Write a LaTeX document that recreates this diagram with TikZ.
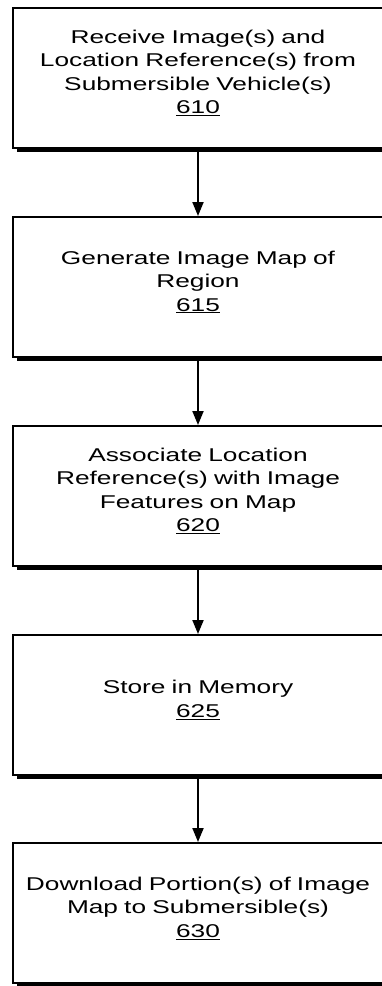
\documentclass[tikz,border=0pt]{standalone}
\usepackage{fontspec}
\setmainfont[FakeStretch=1.42]{Liberation Sans}
\usetikzlibrary{arrows.meta,shadows}
\begin{document}
\begin{tikzpicture}[x=1pt,y=1pt,
  stepbox/.style={draw=black, line width=2pt, fill=white, minimum width=370pt, minimum height=140pt,
    inner sep=0pt, align=center, text width=366pt,
    font=\fontsize{18.5}{23.5}\selectfont,
    drop shadow={shadow xshift=3.5pt, shadow yshift=-3.5pt, fill=black, opacity=1}},
  steptext/.style={inner sep=0pt, align=center, text width=366pt, font=\fontsize{18.5}{23.5}\selectfont},
  flow/.style={line width=2pt, -{Triangle[length=14pt,width=11pt]}}]
\useasboundingbox (0,0) rectangle (382,-986);
\node[stepbox] (b1) at (198,-78) {};
\node[stepbox] (b2) at (198,-287) {};
\node[stepbox] (b3) at (198,-496) {};
\node[stepbox] (b4) at (198,-705) {};
\node[stepbox] (b5) at (198,-913) {};
\node[steptext] (t1) at ([yshift=5pt]b1.center) {Receive Image(s) and\\Location Reference(s) from\\Submersible Vehicle(s)\\\underline{610}};
\node[steptext] (t2) at ([yshift=5pt]b2.center) {Generate Image Map of\\Region\\\underline{615}};
\node[steptext] (t3) at ([yshift=5pt]b3.center) {Associate Location\\Reference(s) with Image\\Features on Map\\\underline{620}};
\node[steptext] (t4) at ([yshift=5pt]b4.center) {Store in Memory\\\underline{625}};
\node[steptext] (t5) at ([yshift=5pt]b5.center) {Download Portion(s) of Image\\Map to Submersible(s)\\\underline{630}};
\draw[flow] (b1.south) -- (b2.north);
\draw[flow] (b2.south) -- (b3.north);
\draw[flow] (b3.south) -- (b4.north);
\draw[flow] (b4.south) -- (b5.north);
\end{tikzpicture}
\end{document}
